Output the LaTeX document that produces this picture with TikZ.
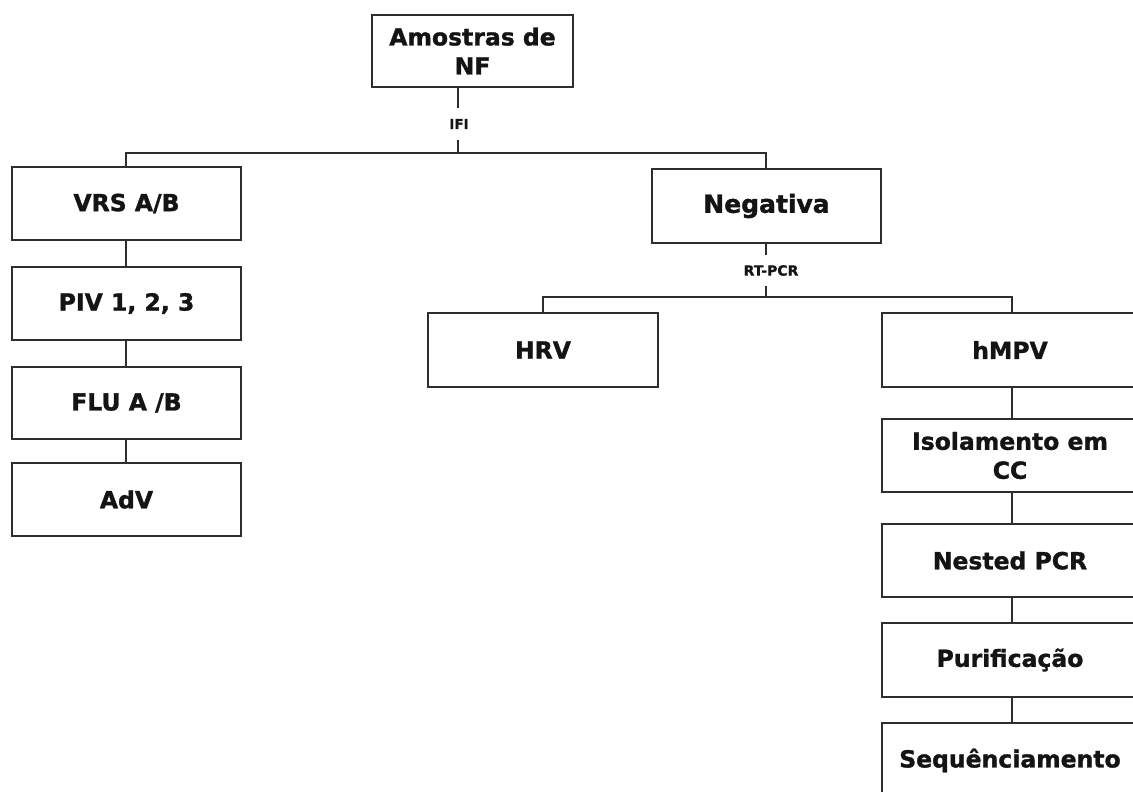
\documentclass[tikz,border=0pt]{standalone}
\usepackage{fontspec}
\setmainfont{DejaVu Sans}[BoldFeatures={FakeBold=1.3}]
\definecolor{linec}{HTML}{2E2E2E}
\definecolor{textc}{HTML}{141414}
\begin{document}
\begin{tikzpicture}[x=1pt,y=-1pt,
  boxnode/.style={draw=linec, line width=2.6pt, fill=white, inner sep=0pt, align=center,
    text=textc, font=\fontsize{23.5}{29}\selectfont\bfseries},
  lbl/.style={inner sep=0pt, text=textc, font=\bfseries},
  conn/.style={draw=linec, line width=2.6pt}]
\useasboundingbox (0,0) rectangle (1133,792);
% top
\node[boxnode, minimum width=201pt, minimum height=72pt] (top) at (472.5,51) {Amostras de\\NF};
\node[lbl, minimum height=32pt, font=\fontsize{13.5}{15}\selectfont\bfseries] (ifi) at (459,124) {IFI};
% left column
\node[boxnode, minimum width=229pt, minimum height=73pt] (vrs) at (126.5,203.5) {VRS A/B};
\node[boxnode, minimum width=229pt, minimum height=73pt] (piv) at (126.5,303.5) {PIV 1, 2, 3};
\node[boxnode, minimum width=229pt, minimum height=72pt] (flu) at (126.5,403) {FLU A /B};
\node[boxnode, minimum width=229pt, minimum height=73pt] (adv) at (126.5,499.5) {AdV};
% negativa
\node[boxnode, minimum width=229pt, minimum height=74pt, font=\fontsize{25}{29}\selectfont\bfseries] (neg) at (766.5,206) {Negativa};
\node[lbl, minimum height=31pt, font=\fontsize{14}{16}\selectfont\bfseries] (rt) at (771,270.5) {RT-PCR};
\node[boxnode, minimum width=230pt, minimum height=74pt] (hrv) at (543,350) {HRV};
% right column
\node[boxnode, minimum width=256pt, minimum height=74pt] (hmpv) at (1010,350) {hMPV};
\node[boxnode, minimum width=256pt, minimum height=73pt] (iso) at (1010,455.5) {Isolamento em\\CC};
\node[boxnode, minimum width=256pt, minimum height=73pt] (nest) at (1010,560.5) {Nested PCR};
\node[boxnode, minimum width=256pt, minimum height=74pt] (pur) at (1010,660) {Purificação};
\node[boxnode, minimum width=256pt, minimum height=75pt] (seq) at (1010,760.5) {Sequênciamento};
% junction coordinates
\coordinate (j1) at (458,153);
\coordinate (j2) at (766,297);
% connectors
\draw[conn] (top.south -| j1) -- (ifi.north -| j1);
\draw[conn] (ifi.south -| j1) -- (j1);
\draw[conn] (vrs.north -| 126,0) -- (126,153) -- (j1) -- (766,153) -- (neg.north -| j2);
\draw[conn] (neg.south -| j2) -- (rt.north -| j2);
\draw[conn] (rt.south -| j2) -- (j2);
\draw[conn] (hrv.north) -- (hrv.north |- j2) -- (j2) -- (1012,297) -- (hmpv.north -| 1012,0);
\draw[conn] (vrs.south -| 126,0) -- (piv.north -| 126,0);
\draw[conn] (piv.south -| 126,0) -- (flu.north -| 126,0);
\draw[conn] (flu.south -| 126,0) -- (adv.north -| 126,0);
\draw[conn] (hmpv.south -| 1012,0) -- (iso.north -| 1012,0);
\draw[conn] (iso.south -| 1012,0) -- (nest.north -| 1012,0);
\draw[conn] (nest.south -| 1012,0) -- (pur.north -| 1012,0);
\draw[conn] (pur.south -| 1012,0) -- (seq.north -| 1012,0);
\end{tikzpicture}
\end{document}
